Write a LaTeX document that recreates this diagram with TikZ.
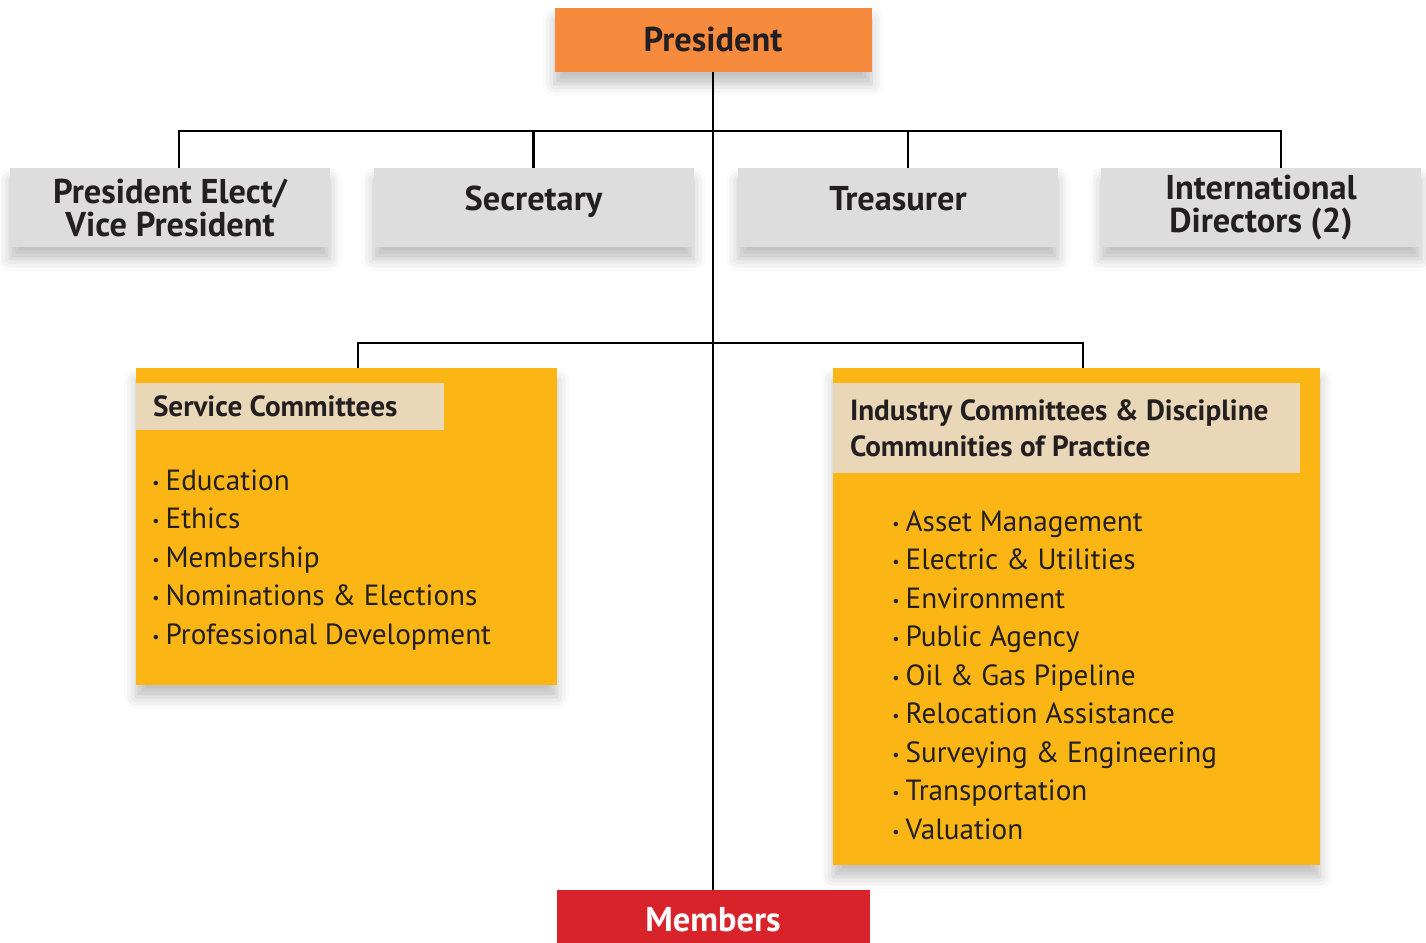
\documentclass[tikz,border=0pt]{standalone}
\usepackage{fontspec}
\setmainfont{PT Sans}
\usetikzlibrary{shadows.blur}
\definecolor{presorange}{HTML}{F68B3E}
\definecolor{officegray}{HTML}{DDDDDD}
\definecolor{cmtgold}{HTML}{FBB616}
\definecolor{tabbeige}{HTML}{EAD7B7}
\definecolor{memred}{HTML}{D9232B}
\definecolor{ink}{HTML}{231F20}
\newcommand{\itm}{{\footnotesize\raisebox{1pt}{•}}\kern3pt}

\begin{document}
\begin{tikzpicture}
[
    x=0.5pt, y=-0.5pt,
    box/.style={rectangle, inner sep=0pt, align=center, text=ink,
        font=\fontsize{17.2}{16.5}\selectfont\bfseries},
    softshadow/.style={blur shadow={shadow xshift=0pt, shadow yshift=-6pt,
        shadow blur radius=6pt, shadow opacity=25}},
    presbox/.style={box, softshadow, fill=presorange, minimum width=158.5pt, minimum height=32pt},
    officer/.style={box, softshadow, fill=officegray, minimum width=160pt, minimum height=39.5pt},
    committee/.style={rectangle, softshadow, fill=cmtgold, inner sep=0pt},
    tab/.style={rectangle, fill=tabbeige, inner ysep=0pt, inner xsep=8.5pt, align=flush left,
        text=ink, font=\fontsize{14.6}{18}\selectfont\bfseries},
    itemlist/.style={inner sep=0pt, align=left, text=ink,
        font=\fontsize{14.6}{19.25}\selectfont},
    memberbox/.style={box, fill=memred, text=white, minimum width=156.5pt, minimum height=30pt},
    link/.style={draw=black, line width=1.2pt},
]
\useasboundingbox (0,0) rectangle (1426,943);

\node (pres) [presbox] at (713,40) {President};
\node (pe) [officer] at (170,207.5) {President Elect/\\Vice President};
\node (sec) [officer, text depth=9pt] at (533.5,207.5) {Secretary};
\node (tre) [officer, text depth=9pt] at (898,207.5) {Treasurer};
\node (intl) [officer] at (1261,207.5) {International\\Directors (2)};

\node (svc) [committee, minimum width=210.5pt, minimum height=158.5pt] at (346.5,526.5) {};
\node (ind) [committee, minimum width=243.5pt, minimum height=248.5pt] at (1076.5,616.5) {};
\node (svchead) [tab, text width=137pt, minimum height=23.5pt] at (290,406.5) {Service Committees};
\node (indhead) [tab, text width=216.5pt, minimum height=45pt] at (1066.5,428)
    {Industry Committees \& Discipline\\Communities of Practice};
\node (svclist) [itemlist, anchor=west] at (152,560)
    {\itm Education\\ \itm Ethics\\ \itm Membership\\ \itm Nominations \& Elections\\
     \itm Professional Development};
\node (indlist) [itemlist, anchor=west] at (892,675)
    {\itm Asset Management\\ \itm Electric \& Utilities\\ \itm Environment\\
     \itm Public Agency\\ \itm Oil \& Gas Pipeline\\ \itm Relocation Assistance\\
     \itm Surveying \& Engineering\\ \itm Transportation\\ \itm Valuation};

\node (mem) [memberbox] at (713,920) {Members};

\coordinate (bar1) at (713,131);
\coordinate (bar2) at (713,343);
\draw [link] (pres.south) -- (mem.north);
\draw [link] ([xshift=4.5pt]pe.north) |- (bar1) -| ([xshift=10pt]intl.north);
\draw [link] (sec.north) -- (sec.north |- bar1);
\draw [link] ([xshift=5pt]tre.north) -- ([xshift=5pt]tre.north |- bar1);
\draw [link] ([xshift=5.75pt]svc.north) |- (bar2) -| ([xshift=3.25pt]ind.north);
\end{tikzpicture}
\end{document}
